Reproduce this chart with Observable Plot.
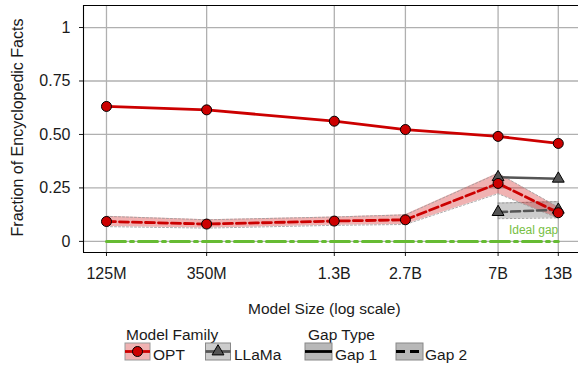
<!DOCTYPE html>
<html>
<head>
<meta charset="utf-8">
<script src="https://cdn.jsdelivr.net/npm/d3@7"></script>
<script src="https://cdn.jsdelivr.net/npm/@observablehq/plot@0.6"></script>
<style>
  html, body { margin: 0; padding: 0; background: white; }
  #wrap { width: 578px; height: 367px; overflow: hidden; }
  #wrap svg { display: block; }
</style>
</head>
<body>
<div id="wrap"></div>
<script>
// ---- data ----
const sizes = [125e6, 350e6, 1.3e9, 2.7e9, 7e9, 13e9];
const sizeLabels = ["125M", "350M", "1.3B", "2.7B", "7B", "13B"];
const optGap1 = [0.631, 0.615, 0.562, 0.523, 0.491, 0.458];
const optGap2 = [0.093, 0.081, 0.095, 0.101, 0.271, 0.134];
const optGap2Lo = [0.069, 0.062, 0.075, 0.079, 0.223, 0.108];
const optGap2Hi = [0.117, 0.101, 0.114, 0.124, 0.318, 0.160];
const llamaSizes = [7e9, 13e9];
const llamaGap1 = [0.300, 0.293];
const llamaGap2 = [0.137, 0.148];
const llamaGap2Lo = [0.106, 0.110];
const llamaGap2Hi = [0.179, 0.186];
const idealGap = [0, 0, 0, 0, 0, 0];
const yTicks = [0, 0.25, 0.5, 0.75, 1];
const xDomain = [9.87e7, 1.6e10];
const yDomain = [-0.052, 1.103];
const xLabel = "Model Size (log scale)";
const yLabel = "Fraction of Encyclopedic Facts";
const idealLabel = "Ideal gap";

// ---- tables ----
const opt = sizes.map((s, i) => ({s, g1: optGap1[i], g2: optGap2[i], lo: optGap2Lo[i], hi: optGap2Hi[i], ideal: idealGap[i]}));
const llama = llamaSizes.map((s, i) => ({s, g1: llamaGap1[i], g2: llamaGap2[i], lo: llamaGap2Lo[i], hi: llamaGap2Hi[i]}));
const xTickTable = sizes.map((s, i) => ({s, label: sizeLabels[i]}));

const RED = "#cc0000", GREY = "#555555", GREEN = "#66bb33", GRID = "#b0b0b0", INK = "#1a1a1a";
const FONT = "'Liberation Sans', Arial, sans-serif";

const chart = Plot.plot({
  width: 578, height: 320,
  marginTop: 5, marginLeft: 83, marginRight: 0, marginBottom: 68,
  style: {fontFamily: FONT, fontSize: "16px", color: INK, background: "white"},
  x: {type: "log", domain: xDomain},
  y: {domain: yDomain},
  marks: [
    Plot.gridX(sizes, {stroke: GRID, strokeOpacity: 1, strokeWidth: 1.3}),
    Plot.gridY(yTicks, {stroke: GRID, strokeOpacity: 1, strokeWidth: 1.3}),
    Plot.axisX(sizes, {text: null, tickSize: 4, label: null}),
    Plot.text(xTickTable, {x: "s", text: "label", frameAnchor: "bottom", lineAnchor: "top", dy: 15, fontSize: 16, fill: INK}),
    Plot.axisY(yTicks, {tickFormat: d => (d === 0 || d === 1) ? String(d) : d.toFixed(2), tickSize: 4, tickPadding: 9, label: null, fontSize: 16, fill: INK}),
    // bands
    Plot.areaY(llama, {x: "s", y1: "lo", y2: "hi", fill: GREY, fillOpacity: 0.3}),
    Plot.line(llama, {x: "s", y: "lo", stroke: "#888", strokeWidth: 0.8, strokeDasharray: "2,2"}),
    Plot.line(llama, {x: "s", y: "hi", stroke: "#888", strokeWidth: 0.8, strokeDasharray: "2,2"}),
    Plot.areaY(opt, {x: "s", y1: "lo", y2: "hi", fill: RED, fillOpacity: 0.3}),
    Plot.line(opt, {x: "s", y: "lo", stroke: "#999", strokeWidth: 0.8, strokeDasharray: "2,2"}),
    Plot.line(opt, {x: "s", y: "hi", stroke: "#999", strokeWidth: 0.8, strokeDasharray: "2,2"}),
    // ideal gap
    Plot.line(opt, {x: "s", y: "ideal", stroke: GREEN, strokeWidth: 3, strokeDasharray: "19,5,3,5"}),
    Plot.text([idealLabel], {x: sizes[sizes.length - 1], y: 0, text: d => d, textAnchor: "end", lineAnchor: "middle", dy: -11, dx: 0, fill: "#77c044", fontSize: 12}),
    // LLaMa
    Plot.line(llama, {x: "s", y: "g1", stroke: GREY, strokeWidth: 2.6}),
    Plot.line(llama, {x: "s", y: "g2", stroke: GREY, strokeWidth: 2.6, strokeDasharray: "9,4"}),
    Plot.dot(llama, {x: "s", y: "g1", symbol: "triangle", r: 4.4, fill: GREY, stroke: "black", strokeWidth: 1}),
    Plot.dot(llama, {x: "s", y: "g2", symbol: "triangle", r: 4.4, fill: GREY, stroke: "black", strokeWidth: 1}),
    // OPT
    Plot.line(opt, {x: "s", y: "g1", stroke: RED, strokeWidth: 2.8}),
    Plot.line(opt, {x: "s", y: "g2", stroke: RED, strokeWidth: 2.8, strokeDasharray: "9,4"}),
    Plot.dot(opt, {x: "s", y: "g1", r: 5, fill: RED, stroke: "black", strokeWidth: 1}),
    Plot.dot(opt, {x: "s", y: "g2", r: 5, fill: RED, stroke: "black", strokeWidth: 1}),
    // spines
    Plot.ruleX([xDomain[0]], {stroke: "black", strokeWidth: 1.1}),
    Plot.ruleY([yDomain[0]], {stroke: "black", strokeWidth: 1.1}),
    Plot.ruleY([yDomain[1]], {stroke: "black", strokeWidth: 1.1}),
    // axis labels
    Plot.text([xLabel], {frameAnchor: "bottom", text: d => d, textAnchor: "middle", dy: 57, dx: -6.7, lineAnchor: "middle", fontSize: 15.5, fill: INK}),
    Plot.text([yLabel], {frameAnchor: "left", text: d => d, textAnchor: "middle", rotate: -90, dx: -65.5, dy: -1.5, lineAnchor: "middle", fontSize: 16, fill: INK})
  ]
});
document.getElementById("wrap").appendChild(chart);

// ---- legend (below the plot svg) ----
const ns = "http://www.w3.org/2000/svg";
const lg = document.createElementNS(ns, "svg");
lg.setAttribute("width", 578);
lg.setAttribute("height", 47);
lg.style.fontFamily = FONT;
lg.style.fontSize = "15.5px";
function el(tag, attrs, text) {
  const e = document.createElementNS(ns, tag);
  for (const k in attrs) e.setAttribute(k, attrs[k]);
  if (text) e.textContent = text;
  lg.appendChild(e);
  return e;
}
const PY = 23, PH = 17, LY = PY + PH / 2, TY = 40;
el("text", {x: 126, y: 20, fill: INK}, "Model Family");
el("text", {x: 308, y: 20, fill: INK}, "Gap Type");
// OPT
el("rect", {x: 125, y: PY, width: 25, height: PH, fill: RED, "fill-opacity": 0.3, stroke: "#999", "stroke-width": 1});
el("line", {x1: 125, x2: 150, y1: LY, y2: LY, stroke: RED, "stroke-width": 2.8});
el("circle", {cx: 137.5, cy: LY, r: 5, fill: RED, stroke: "black", "stroke-width": 1});
el("text", {x: 153, y: TY, fill: INK}, "OPT");
// LLaMa
el("rect", {x: 205.5, y: PY, width: 25, height: PH, fill: GREY, "fill-opacity": 0.3, stroke: "#888", "stroke-width": 1});
el("line", {x1: 205.5, x2: 230.5, y1: LY, y2: LY, stroke: GREY, "stroke-width": 2.8});
el("path", {d: d3.symbol(d3.symbolTriangle, Math.PI * 4.4 * 4.4)(), transform: `translate(218,${LY})`, fill: GREY, stroke: "black", "stroke-width": 1});
el("text", {x: 234, y: TY, fill: INK}, "LLaMa");
// Gap 1
el("rect", {x: 305, y: PY, width: 27, height: PH, fill: "#b8b8b8", stroke: "#888", "stroke-width": 1});
el("line", {x1: 305, x2: 332, y1: LY, y2: LY, stroke: "black", "stroke-width": 2.8});
el("text", {x: 335, y: TY, fill: INK}, "Gap 1");
// Gap 2
el("rect", {x: 396, y: PY, width: 27, height: PH, fill: "#b8b8b8", stroke: "#888", "stroke-width": 1});
el("line", {x1: 396, x2: 423, y1: LY, y2: LY, stroke: "black", "stroke-width": 2.8, "stroke-dasharray": "9,5"});
el("text", {x: 425, y: TY, fill: INK}, "Gap 2");
document.getElementById("wrap").appendChild(lg);
</script>
</body>
</html>
